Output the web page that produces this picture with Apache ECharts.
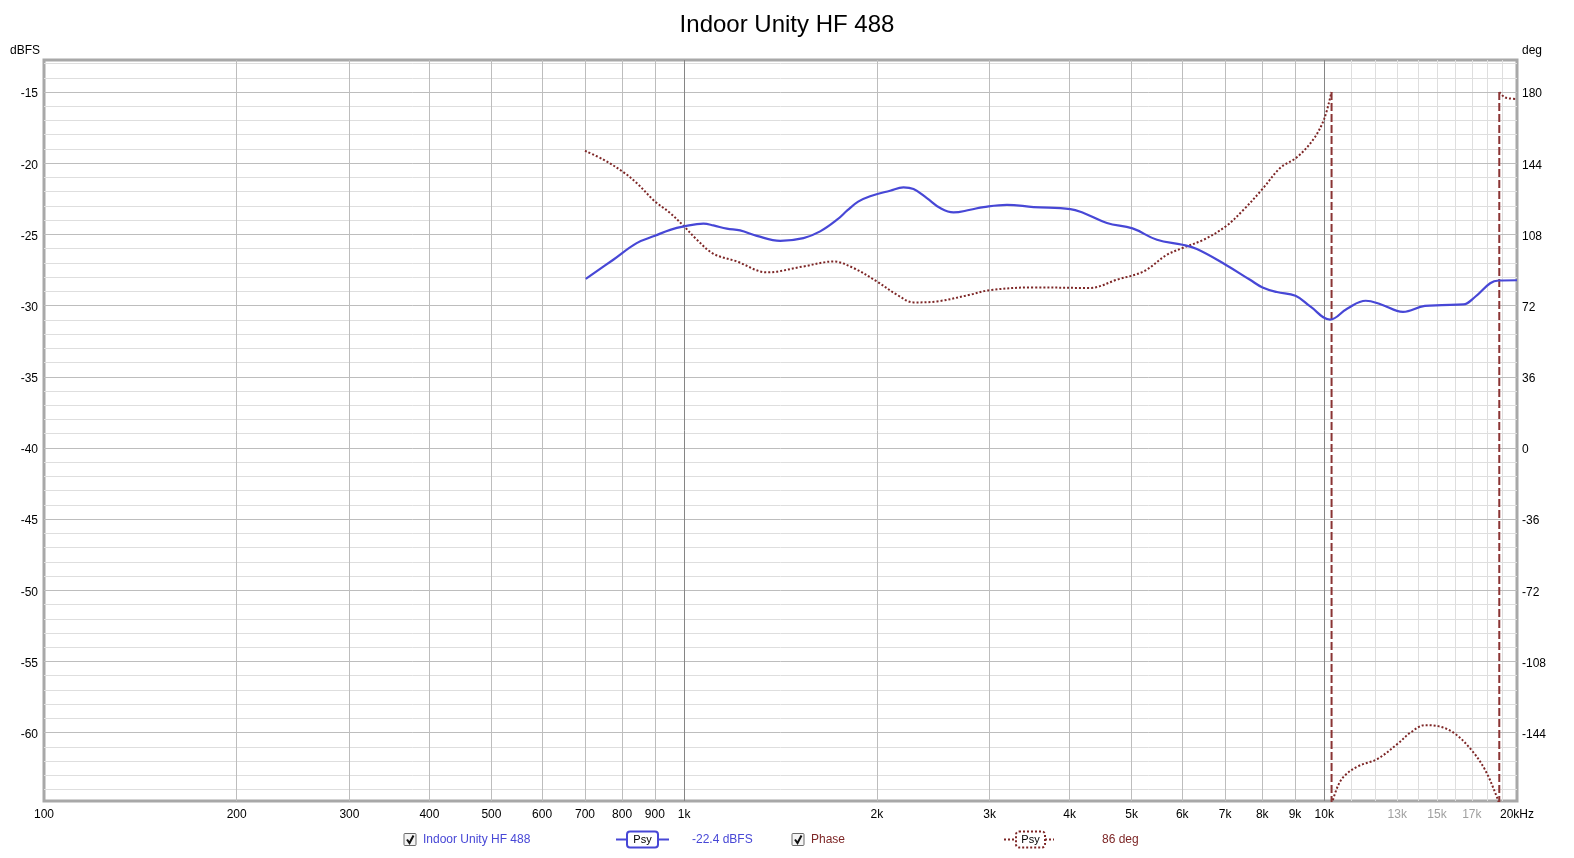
<!DOCTYPE html>
<html><head><meta charset="utf-8">
<script src="https://cdn.jsdelivr.net/npm/echarts@6/dist/echarts.min.js"></script>
<style>html,body{margin:0;padding:0;background:#fff}#c{width:1574px;height:858px}</style>
</head><body><div id="c"></div>
<script>
const chartTitle = 'Indoor Unity HF 488';
// Magnitude (dBFS) vs frequency (Hz)
const magFreq = [702,775,843,900,951,1000,1072,1111,1166,1223,1299,1413,1536,1631,1733,1800,1870,1952,2098,2201,2282,2394,2512,2635,2798,2936,3193,3514,4010,4207,4575,5017,5478,6005,6324,7012,7656,8009,8433,9016,9507,10210,10870,11610,12270,13270,14360,15250,16490,17210,18160,18730,20000];
const magDb = [-28.12,-26.78,-25.61,-25.1,-24.68,-24.44,-24.25,-24.37,-24.6,-24.72,-25.1,-25.45,-25.26,-24.79,-23.97,-23.3,-22.7,-22.32,-21.93,-21.7,-21.82,-22.45,-23.15,-23.46,-23.27,-23.08,-22.92,-23.08,-23.22,-23.5,-24.2,-24.58,-25.38,-25.73,-26.03,-27.13,-28.19,-28.73,-29.05,-29.31,-30.06,-30.98,-30.2,-29.66,-29.92,-30.44,-30.02,-29.97,-29.92,-29.38,-28.43,-28.24,-28.22];
// Phase (deg), wrapped segments
const phaseFreqA = [700,748,801,843,900,951,1000,1047,1111,1209,1347,1536,1712,1839,2000,2149,2282,2482,2798,3000,3514,4306,4743,5222,5678,6005,6478,7012,7481,8009,8531,9070,9632,10000,10260];
const phaseDegA = [150.3,145.8,139.8,134,124.7,118.8,112,105.3,98.2,94.3,88.8,91.8,94.3,91,84.2,77.5,73.6,74.1,77.5,79.8,81.2,80.9,85.1,89.3,97.7,101.1,105.3,112,120.5,131,141.6,147.1,156.4,166.6,180];
const phaseFreqB = [10270,10500,10740,11270,12120,13030,13680,14360,15070,16000,17000,17850,18620,18760];
const phaseDegB = [-180,-171,-166,-161.1,-157.2,-149.5,-143.6,-140.2,-140.7,-144.5,-153,-163.1,-176.8,-180];
const phaseFreqC = [18770,19100,19420,20000];
const phaseDegC = [180,177.5,176.8,176.5];
const wrapFreqs = [10265, 18765];
// Axis ticks
const xTickFreqs = [100,200,300,400,500,600,700,800,900,1000,2000,3000,4000,5000,6000,7000,8000,9000,10000,13000,15000,17000,20000];
const xTickLabels = ['100','200','300','400','500','600','700','800','900','1k','2k','3k','4k','5k','6k','7k','8k','9k','10k','13k','15k','17k','20kHz'];
const xMutedLabels = ['13k','15k','17k'];
const xMajorGrid = [200,300,400,500,600,700,800,900,2000,3000,4000,5000,6000,7000,8000,9000];
const xDarkGrid = [1000,10000];
const xMinorGrid = [11000,12000,13000,14000,15000,16000,17000,18000,19000];
const dbTicks = [-60,-55,-50,-45,-40,-35,-30,-25,-20,-15];
const dbMinor = [];
for (let v = -64; v <= -13; v++) if (v % 5 !== 0) dbMinor.push(v);
const degTicks = [-144,-108,-72,-36,0,36,72,108,144,180];

const FONT = '"Liberation Sans", Arial, sans-serif';
const BLUE = '#4747d6';
const RED = '#7d2626';
const L = Math.log10;
const xMin = 2, xMax = L(20000);
const dbMin = -64.8, dbMax = -12.75;
const degMin = (dbMin + 40) * 7.2, degMax = (dbMax + 40) * 7.2;

const labelMap = {};
xTickFreqs.forEach((f, i) => { labelMap[L(f).toFixed(5)] = xTickLabels[i]; });
const lab = v => labelMap[Number(v).toFixed(5)] || '';

function xAxisDef(vals, color, showLabels, z) {
  const cv = vals.map(L);
  return {
    type: 'value', min: xMin, max: xMax, position: 'bottom', z: z,
    axisLine: { show: false },
    axisTick: { show: false, customValues: cv },
    axisLabel: showLabels ? {
      show: true, customValues: cv, margin: 8, fontFamily: FONT, fontSize: 12,
      formatter: v => lab(v),
      color: v => xMutedLabels.indexOf(lab(v)) >= 0 ? '#a0a0a0' : '#000'
    } : { show: false, customValues: cv },
    splitLine: { show: true, lineStyle: { color: color, width: 1 } }
  };
}
function yAxisDef(vals, min, max, pos, color, showLabels, z, margin) {
  return {
    type: 'value', min: min, max: max, position: pos, z: z,
    axisLine: { show: false },
    axisTick: { show: false, customValues: vals },
    axisLabel: showLabels ? {
      show: true, customValues: vals, margin: margin, fontFamily: FONT, fontSize: 12, color: '#000',
      formatter: v => '{a|' + v + '}',
      rich: { a: { fontFamily: FONT, fontSize: 12, color: '#000', padding: [4, 0, 0, 0] } }
    } : { show: false, customValues: vals },
    splitLine: color ? { show: true, lineStyle: { color: color, width: 1 } } : { show: false }
  };
}

const xAxes = [
  xAxisDef(xTickFreqs, 'rgba(0,0,0,0)', true, 3),
  xAxisDef(xMinorGrid, '#dedede', false, 0),
  xAxisDef(xMajorGrid, '#bdbdbd', false, 1),
  xAxisDef(xDarkGrid, '#858585', false, 2)
];
const yAxes = [
  yAxisDef(dbTicks, dbMin, dbMax, 'left', '#bdbdbd', true, 1, 6),
  yAxisDef(degTicks, degMin, degMax, 'right', null, true, 1, 5),
  yAxisDef(dbMinor, dbMin, dbMax, 'left', '#dedede', false, 0, 6)
];

const zip = (fs, vs) => fs.map((f, i) => [L(f), vs[i]]);
const series = [
  { type: 'line', name: 'mag', xAxisIndex: 0, yAxisIndex: 0, data: zip(magFreq, magDb), smooth: 0.4, showSymbol: false, lineStyle: { color: BLUE, width: 2.2 }, z: 5 },
];
[[phaseFreqA, phaseDegA], [phaseFreqB, phaseDegB], [phaseFreqC, phaseDegC]].forEach(([f, d]) => {
  series.push({ type: 'line', xAxisIndex: 0, yAxisIndex: 1, data: zip(f, d), smooth: 0.35, showSymbol: false,
    lineStyle: { color: RED, width: 2, type: [2, 2] }, z: 4 });
});
wrapFreqs.forEach(w => {
  series.push({ type: 'line', xAxisIndex: 0, yAxisIndex: 1, data: [[L(w), 180], [L(w), -180]], showSymbol: false,
    lineStyle: { color: '#8a3434', width: 2, type: [8, 3] }, z: 4 });
});

function checkbox(x, y) {
  return [
    { type: 'rect', shape: { x: x, y: y, width: 12, height: 12, r: 1 }, style: { fill: '#f4f4f4', stroke: '#6a6a6a', lineWidth: 1 } },
    { type: 'polyline', shape: { points: [[x + 3, y + 6], [x + 5.5, y + 9.5], [x + 9.5, y + 2]] }, style: { stroke: '#111', lineWidth: 2, fill: null } }
  ];
}
const LY = 839.5;
function sample(x1, x2, bx, bw, color, dotted) {
  const ls = dotted ? [2, 2] : null;
  return [
    { type: 'line', shape: { x1: x1, y1: LY, x2: bx, y2: LY }, style: { stroke: color, lineWidth: 2, lineDash: ls } },
    { type: 'line', shape: { x1: bx + bw, y1: LY, x2: x2, y2: LY }, style: { stroke: color, lineWidth: 2, lineDash: ls } },
    { type: 'rect', shape: { x: bx, y: LY - 8, width: bw, height: 16, r: 3 }, style: { fill: '#fff', stroke: color, lineWidth: 2, lineDash: ls } },
    { type: 'text', x: bx + bw / 2, y: LY + 0.5, style: { text: 'Psy', fill: '#000', font: '11px ' + FONT, align: 'center', verticalAlign: 'middle' } }
  ];
}
const txt = (x, s, c) => ({ type: 'text', x: x, y: LY + 0.5, style: { text: s, fill: c, font: '12px ' + FONT, verticalAlign: 'middle' } });

const graphic = [
  { type: 'text', x: 10, y: 51, style: { text: 'dBFS', fill: '#000', font: '12px ' + FONT, verticalAlign: 'middle' } },
  { type: 'text', x: 1522, y: 51, style: { text: 'deg', fill: '#000', font: '12px ' + FONT, verticalAlign: 'middle' } },
  ...checkbox(404, LY - 6),
  txt(423, 'Indoor Unity HF 488', BLUE),
  ...sample(616, 669, 627, 31, BLUE, false),
  txt(692, '-22.4 dBFS', BLUE),
  ...checkbox(792, LY - 6),
  txt(811, 'Phase', RED),
  ...sample(1004, 1054, 1016, 29, RED, true),
  txt(1102, '86 deg', RED)
];

const chart = echarts.init(document.getElementById('c'), null, { renderer: 'canvas' });
chart.setOption({
  animation: false,
  backgroundColor: '#fff',
  title: { text: chartTitle, left: 'center', top: 8, textStyle: { fontFamily: FONT, fontSize: 24, fontWeight: 'normal', color: '#000' } },
  grid: { left: 44, right: 57, top: 60, bottom: 57, show: true, borderColor: '#a8a8a8', borderWidth: 3, backgroundColor: '#fff', containLabel: false },
  xAxis: xAxes,
  yAxis: yAxes,
  series: series,
  graphic: graphic
});
</script></body></html>
